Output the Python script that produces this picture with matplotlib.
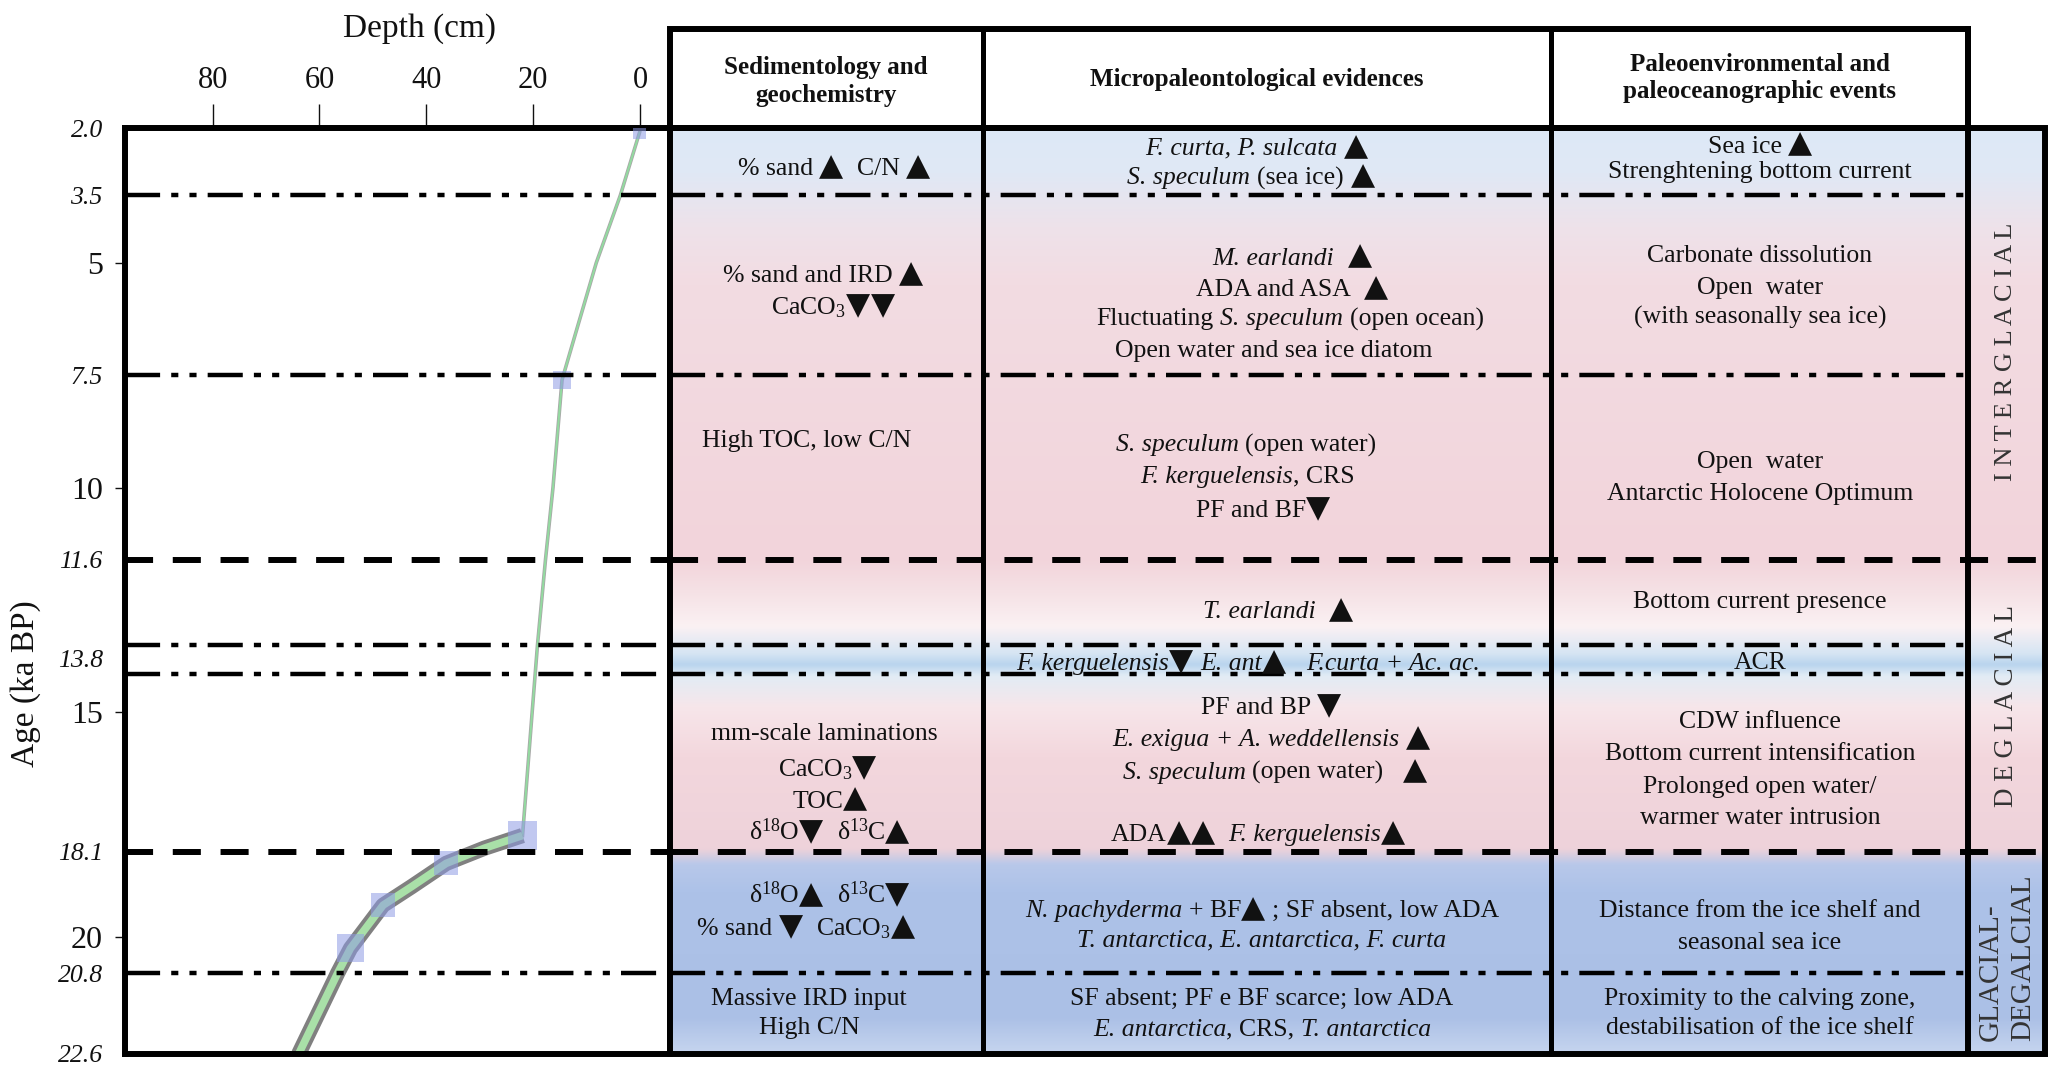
import numpy as np
import matplotlib
matplotlib.use('Agg')
import matplotlib.pyplot as plt
from matplotlib.patches import Rectangle
from matplotlib.offsetbox import TextArea, HPacker, AnnotationBbox, DrawingArea

plt.rcParams['font.family'] = ['Liberation Serif', 'DejaVu Sans']
plt.rcParams['mathtext.fontset'] = 'custom'
plt.rcParams['mathtext.rm'] = 'Liberation Serif'
plt.rcParams['mathtext.it'] = 'Liberation Serif:italic'
plt.rcParams['mathtext.bf'] = 'Liberation Serif:bold'

# age-depth model
model_depth = [0.1, 3.7, 8.2, 11.9, 14.6, 16.3, 17.7, 19.2, 20.2, 22.0,
               29.1, 36.3, 42.8, 48.1, 54.2, 56.6, 63.9]
model_age = [2.1, 3.5, 5.0, 6.5, 7.6, 10.0, 11.6, 13.5, 15.0, 17.74,
             18.02, 18.36, 18.88, 19.29, 20.25, 20.8, 22.6]
# dated levels (blue squares)
dated_depth = [0.1, 14.6, 22.0, 36.3, 48.1, 54.2]
dated_age = [2.1, 7.6, 17.74, 18.36, 19.29, 20.25]

age_ticks = [2.0, 3.5, 5, 7.5, 10, 11.6, 13.8, 15, 18.1, 20, 20.8, 22.6]
age_labels = ['2.0', '3.5', '5', '7.5', '10', '11.6', '13.8', '15',
              '18.1', '20', '20.8', '22.6']
depth_ticks = [80, 60, 40, 20, 0]

boundary_ages = [3.5, 7.5, 11.6, 13.5, 14.15, 18.1, 20.8]
boundary_kind = ['dd', 'dd', 'dash', 'dd', 'dd', 'dash', 'dd']

headers = ['Sedimentology and\ngeochemistry', 'Micropaleontological evidences',
           'Paleoenvironmental and\npaleoceanographic events']

# table text: '*' toggles italics
sed_lines = ['% sand ▲  C/N ▲', '% sand and IRD ▲', 'CaCO$_3$▼▼', 'High TOC, low C/N',
             'mm-scale laminations', 'CaCO$_3$▼', 'TOC▲', 'δ$^{18}$O▼  δ$^{13}$C▲',
             'δ$^{18}$O▲  δ$^{13}$C▼', '% sand ▼  CaCO$_3$▲',
             'Massive IRD input', 'High C/N']
sed_ages = [2.85, 5.23, 5.96, 8.97, 15.48, 16.23, 16.93, 17.65, 19.06, 19.77, 21.37, 22.03]
sed_x = [834, 823, 833, 807, 824, 827, 830, 829, 829, 806, 809, 809]

micro_lines = ['*F. curta, P. sulcata* ▲', '*S. speculum* (sea ice) ▲',
               '*M. earlandi*  ▲', 'ADA and ASA  ▲',
               'Fluctuating *S. speculum* (open ocean)', 'Open water and sea ice diatom',
               '*S. speculum* (open water)', '*F. kerguelensis*, CRS', 'PF and BF▼',
               '*T. earlandi*  ▲',
               '*F. kerguelensis*▼ *E. ant*▲   *F.curta + Ac. ac.*',
               'PF and BP ▼', '*E. exigua + A. weddellensis* ▲',
               '*S. speculum* (open water)   ▲', 'ADA▲▲  *F. kerguelensis*▲',
               '*N. pachyderma* + BF▲ ; SF absent, low ADA',
               '*T. antarctica, E. antarctica, F. curta*',
               'SF absent; PF e BF scarce; low ADA',
               '*E. antarctica*, CRS, *T. antarctica*']
micro_ages = [2.41, 3.06, 4.85, 5.55, 6.25, 6.95, 9.06, 9.76, 10.46, 12.72, 13.87,
              14.85, 15.57, 16.29, 17.68, 19.36, 20.07, 21.37, 22.06]
micro_x = [1257, 1251, 1292, 1292, 1290, 1274, 1246, 1247, 1263, 1278, 1248,
           1271, 1271, 1275, 1258, 1262, 1262, 1262, 1262]

event_lines = ['Sea ice ▲', 'Strenghtening bottom current', 'Carbonate dissolution',
               'Open  water', '(with seasonally sea ice)', 'Open  water',
               'Antarctic Holocene Optimum', 'Bottom current presence', 'ACR',
               'CDW influence', 'Bottom current intensification',
               'Prolonged open water/', 'warmer water intrusion',
               'Distance from the ice shelf and', 'seasonal sea ice',
               'Proximity to the calving zone,', 'destabilisation of the ice shelf']
event_ages = [2.36, 2.98, 4.85, 5.55, 6.22, 9.44, 10.15, 12.55, 13.90,
              15.21, 15.93, 16.66, 17.35, 19.42, 20.13, 21.37, 22.03]

# background tint of the table (age, colour)
tint_ages = [2.0, 3.0, 4.2, 5.5, 11.6, 12.3, 13.1, 13.7, 13.95, 14.2, 14.9, 16.0,
             18.05, 18.4, 19.0, 21.8, 22.6]
tint_cols = ['#dde9f7', '#e0e8f5', '#eee2ea', '#f3dce2', '#f2d4db', '#f5e1e5',
             '#fbf1f3', '#d6e5f3', '#b9d4ee', '#e2ecf5', '#f7e6ea', '#f3d7dd',
             '#eed2da', '#b8c8ea', '#adc2e8', '#abc0e6', '#c6d5ef']

INK = '#111111'
TXT = 18.5
W, H = 2067, 1080
cols = [670, 983, 1551, 1968, 2045]
body_top, body_bot, head_top = 128, 1054, 29
plot_left = 125

fig = plt.figure(figsize=(W / 100, H / 100), dpi=100)
ax = fig.add_axes([plot_left / W, 1 - body_bot / H, (cols[0] - plot_left) / W,
                   (body_bot - body_top) / H])
tb = fig.add_axes([cols[0] / W, 1 - body_bot / H, (cols[-1] - cols[0]) / W,
                   (body_bot - head_top) / H])
top_age = 2.0 - (body_top - head_top) / (body_bot - body_top) * (22.6 - 2.0)

styles = {'dd': dict(color='k', lw=3.2, ls=(0, (7.9, 2.5, 1.6, 2.5, 1.6, 2.5))),
          'dash': dict(color='k', lw=4.3, ls=(0, (4.7, 3.3)))}

# ---- age-depth plot
k = model_age.index(17.74)
ax.plot(model_depth[:k + 1], model_age[:k + 1], color='#a8a8a8', lw=2.6, zorder=2)
ax.plot(model_depth[:k + 1], model_age[:k + 1], color='#93dba0', lw=1.4, zorder=2)
ax.plot(model_depth[k:], model_age[k:], color='#808080', lw=11, zorder=2,
        solid_capstyle='butt')
ax.plot(model_depth[k:], model_age[k:], color='#a9e0a8', lw=5.5, zorder=2,
        solid_capstyle='butt')
ax.scatter(dated_depth, dated_age, marker='s', s=[80, 160, 440, 300, 300, 400],
           color='#8e9be4', alpha=0.55, lw=0, zorder=3)
for a, kind in zip(boundary_ages, boundary_kind):
    ax.axhline(a, zorder=4, **styles[kind])

ax.set_xlim(96.4, -5.6)
ax.set_ylim(22.6, 2.0)
ax.xaxis.tick_top()
ax.set_xticks(depth_ticks)
ax.tick_params(axis='x', direction='out', length=17, width=1.0, labelsize=22,
               pad=7, colors=INK)
ax.set_yticks(age_ticks, labels=age_labels)
ax.tick_params(axis='y', direction='out', length=7, width=1.0, labelsize=23,
               pad=9, colors=INK)
for lab, tick in zip(ax.get_yticklabels(), ax.yaxis.get_major_ticks()):
    if '.' in lab.get_text():
        lab.set_fontstyle('italic')
        lab.set_fontsize(18.5)
        tick.tick1line.set_visible(False)
ax.set_xlabel('Depth (cm)', fontsize=24, color=INK)
ax.xaxis.set_label_position('top')
ax.xaxis.set_label_coords(0.54, 1.107)
ax.xaxis.label.set_va('center')
ax.set_ylabel('Age (ka BP)', fontsize=24, color=INK)
ax.yaxis.set_label_coords(-0.155, 0.40)
for sp in ax.spines.values():
    sp.set_linewidth(4.3)
    sp.set_capstyle('projecting')

# ---- table
grid = np.linspace(2.0, 22.6, 500)
rgb = np.array([matplotlib.colors.to_rgb(c) for c in tint_cols])
img = np.stack([np.interp(grid, tint_ages, rgb[:, i]) for i in range(3)], axis=-1)
tb.imshow(img[:, None, :], extent=(cols[0], cols[-1], 22.6, 2.0), aspect='auto',
          interpolation='bilinear', zorder=0)
tb.set_xlim(cols[0], cols[-1])
tb.set_ylim(22.6, top_age)
tb.axis('off')

for a, kind in zip(boundary_ages, boundary_kind):
    xe = cols[-1] if kind == 'dash' else cols[3]
    tb.plot([cols[0], xe], [a, a], zorder=4, **styles[kind])

tb.add_patch(Rectangle((cols[0], 2.0), cols[-1] - cols[0], 20.6, fill=False, lw=4.3,
                       ec='k', clip_on=False, zorder=6, joinstyle='miter'))
tb.add_patch(Rectangle((cols[0], top_age), cols[3] - cols[0], 2.0 - top_age, fill=False,
                       lw=4.3, ec='k', clip_on=False, zorder=6, joinstyle='miter'))
for xc in cols[1:3]:
    tb.plot([xc, xc], [top_age, 22.6], color='k', lw=3.6, clip_on=False, zorder=6)
tb.plot([cols[3], cols[3]], [top_age, 22.6], color='k', lw=4.3, clip_on=False, zorder=6)

head_x = [826, 1257, 1760]
head_y = [0.97, 0.92, 0.89]
for s, x, y in zip(headers, head_x, head_y):
    tb.text(x, y, s, ha='center', va='center', fontsize=18, fontweight='bold',
            linespacing=1.25, color=INK)


def segments(markup, size):
    out = []
    italic = False
    buf = ''

    def flush():
        nonlocal buf
        if buf:
            core = buf.strip(' ')
            lead = len(buf) - len(buf.lstrip(' '))
            trail = len(buf) - len(buf.rstrip(' ')) if core else 0
            if lead:
                out.append(lead * 0.26 * size)
            if core:
                out.append((core, 'i' if italic else 'r'))
            if trail:
                out.append(trail * 0.26 * size)
        buf = ''

    for ch in markup:
        if ch == '*':
            flush()
            italic = not italic
        elif ch in '▲▼':
            flush()
            out.append((ch, 'T'))
        else:
            buf += ch
    flush()
    return out


def put(x, y, markup, size=TXT):
    kids = []
    for p in segments(markup, size):
        if not isinstance(p, tuple):
            kids.append(DrawingArea(p, 0.1))
            continue
        s, st = p
        if st == 'T':
            props = dict(family='DejaVu Sans', size=size * 1.22, color=INK)
        else:
            props = dict(size=size, color=INK,
                         style='italic' if st == 'i' else 'normal')
        kids.append(TextArea(s, textprops=props))
    box = HPacker(children=kids, align='baseline', pad=0, sep=0)
    tb.add_artist(AnnotationBbox(box, (x, y), frameon=False, pad=0,
                                 box_alignment=(0.5, 0.5), annotation_clip=False,
                                 zorder=5))


for s, y, x in zip(sed_lines, sed_ages, sed_x):
    put(x, y, s)
for s, y, x in zip(micro_lines, micro_ages, micro_x):
    put(x, y, s)
for s, y in zip(event_lines, event_ages):
    put(1760, y, s)

# period labels
xc4 = (cols[3] + cols[4]) / 2
tb.text(xc4, 6.98, ' '.join('INTERGLACIAL'), rotation=90, ha='center', va='center',
        fontsize=19, color='#333333')
tb.text(xc4, 14.85, ' '.join('DEGLACIAL'), rotation=90, ha='center', va='center',
        fontsize=19.5, color='#333333')
tb.text(xc4 - 16, 22.31, 'GLACIAL-', rotation=90, ha='center', va='bottom',
        fontsize=21, color='#333333')
tb.text(xc4 + 17, 22.31, 'DEGALCIAL', rotation=90, ha='center', va='bottom',
        fontsize=21, color='#333333')

fig.savefig('out.png', dpi=100)
